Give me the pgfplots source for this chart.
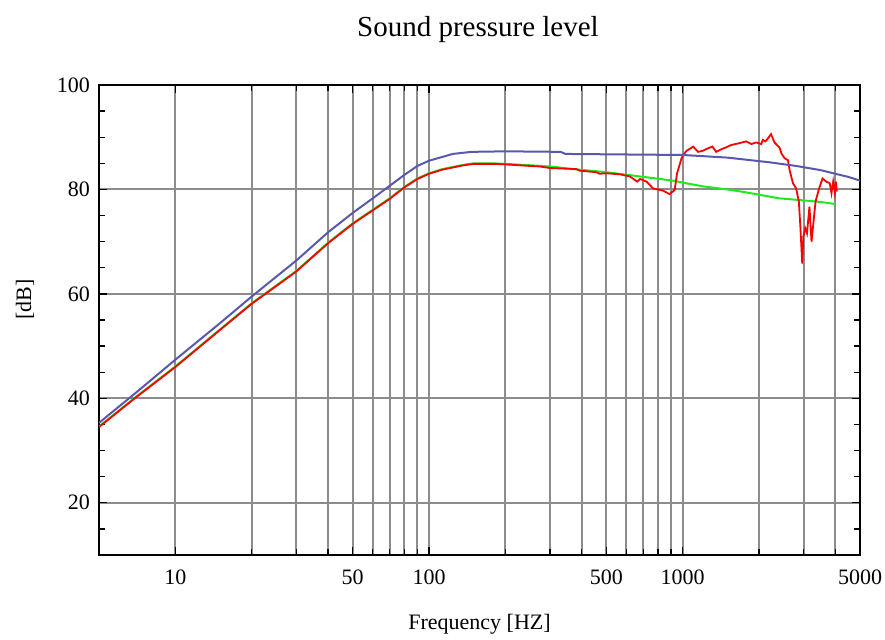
\documentclass[border=0pt]{standalone}
\usepackage{fontspec}
\setmainfont{Liberation Serif}
\usepackage{pgfplots}
\pgfplotsset{compat=1.18}

\definecolor{splblue}{RGB}{88,88,172}
\definecolor{splgreen}{RGB}{30,235,30}
\definecolor{splred}{RGB}{250,0,0}
\definecolor{gridgray}{RGB}{140,140,140}

\begin{document}
\begin{tikzpicture}
\begin{axis}[
  name=ax,
  scale only axis,
  width=380.5pt, height=235pt,
  xmode=log, log basis x=10,
  xmin=5, xmax=5000, ymin=10, ymax=100,
  xtick={10,50,100,500,1000,5000},
  xticklabels={10,50,100,500,1000,5000},
  minor xtick={20,30,40,60,70,80,90,200,300,400,600,700,800,900,2000,3000,4000},
  ytick={20,40,60,80,100},
  minor ytick={15,25,30,35,45,50,55,65,70,75,85,90,95},
  xmajorgrids=true, xminorgrids=true, ymajorgrids=true,
  grid style={gridgray, line width=1pt},
  minor grid style={gridgray, line width=1pt},
  axis line style={black, line width=0.8pt},
  major tick style={black, line width=0.7pt},
  minor tick style={black, line width=0.7pt},
  major tick length=4pt, minor tick length=3pt,
  tick label style={font=\fontsize{11}{13}\selectfont},
  /pgf/number format/assume math mode=true,
  xticklabel style={yshift=-4pt},
  yticklabel style={xshift=-1pt},
  xlabel={Frequency [HZ]},
  ylabel={[dB]},
  label style={font=\fontsize{11}{13}\selectfont},
  xlabel style={at={(axis description cs:0.5,0)}, anchor=center, yshift=-34.5pt},
  ylabel style={at={(axis description cs:0,0.543)}, anchor=center, yshift=37pt},
  title={Sound pressure level},
  title style={at={(axis description cs:0.498,1)}, anchor=center, yshift=21.5pt,
    font=\fontsize{14.5}{16}\selectfont},
]
% green
\addplot[splgreen, line width=1pt] coordinates {
(5,34.6) (7,40.3) (10,46.1) (15,53.2) (20,58.2) (30,64.4) (40,69.8) (50,73.5)
(60,76.1) (70,78.3) (80,80.5) (90,82.1) (100,83.1) (113,83.9) (136,84.7)
(150,85.0) (180,85.0) (200,84.9) (257,84.6) (300,84.4) (369,83.9) (500,83.3)
(676,82.5) (912,81.7) (1000,81.3) (1200,80.6) (1500,80.0) (1700,79.6)
(2000,79.0) (2400,78.3) (3000,77.9) (3500,77.6) (4000,77.2)
};
% red
\addplot[splred, line width=0.9pt] coordinates {
(5,34.5) (7,40.2) (10,46.0) (15,53.1) (20,58.1) (30,64.3) (40,69.7) (50,73.4)
(60,76.0) (70,78.2) (80,80.4) (90,82.0) (100,83.0) (113,83.8) (136,84.6)
(150,84.9) (180,84.9) (200,84.8) (250,84.5) (273,84.4) (300,84.1) (381,83.9)
(393,83.6) (458,83.3) (470,83.0) (501,83.1) (565,82.9) (619,82.5) (662,81.5)
(680,82.0) (721,81.5) (764,80.2) (835,79.8) (888,79.1) (930,79.9) (950,83.1)
(990,86.0) (1006,86.6) (1035,87.4) (1060,87.7) (1100,88.2) (1150,87.2)
(1200,87.4) (1260,87.9) (1310,88.2) (1355,87.2) (1420,87.7) (1490,88.1)
(1550,88.5) (1650,88.8) (1780,89.2) (1865,88.7) (1950,89.0) (2040,88.7)
(2070,89.5) (2120,89.2) (2170,89.8) (2230,90.6) (2300,89.0) (2410,88.0)
(2450,86.9) (2520,86.0) (2600,85.6) (2640,83.7) (2720,81.2) (2800,80.2)
(2870,77.7) (2910,72.9) (2960,65.8) (2990,71.0) (3040,72.6) (3090,71.6)
(3160,76.7) (3220,70.0) (3290,74.5) (3340,77.7) (3450,80.2) (3560,82.1)
(3680,81.5) (3800,81.2) (3860,79.3) (3920,81.5) (3980,79.3) (4020,81.5)
(4050,79.6)
};
% blue
\addplot[splblue, line width=1pt] coordinates {
(5,35.3) (7,41.1) (10,47.4) (15,54.4) (20,59.5) (30,66.4) (40,71.8) (50,75.5)
(60,78.3) (70,80.7) (80,82.8) (90,84.5) (100,85.5) (124,86.8) (147,87.2)
(200,87.3) (330,87.2) (345,86.8) (1000,86.6) (1500,86.1) (2200,85.2)
(2800,84.5) (3500,83.7) (4000,83.0) (4500,82.4) (5000,81.7)
};
\end{axis}
\pgfresetboundingbox
\useasboundingbox ([xshift=-49.5pt,yshift=-42pt]ax.south west)
  rectangle ([xshift=393pt,yshift=277.5pt]ax.south west);
\end{tikzpicture}
\end{document}
